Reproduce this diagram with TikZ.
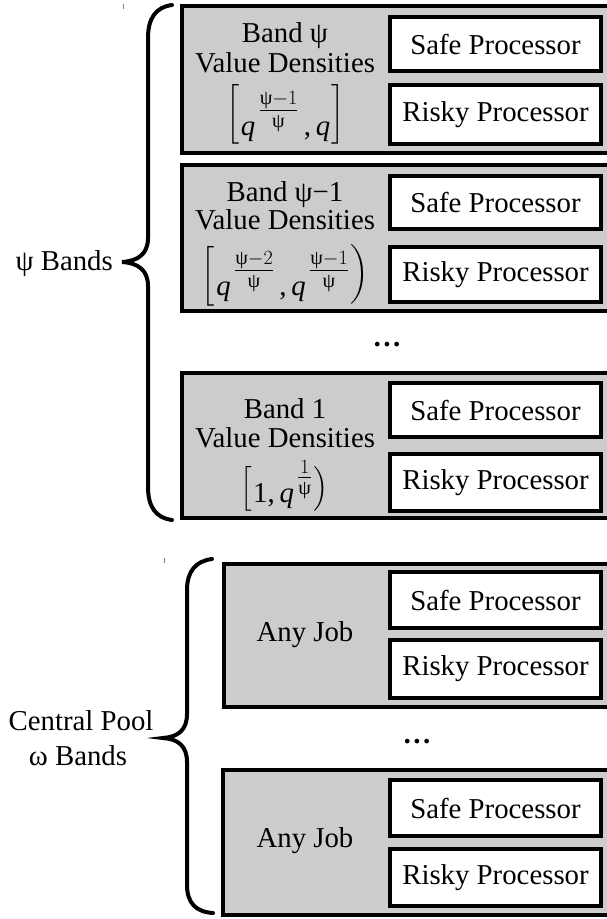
\RequirePackage{fix-cm}
\documentclass[tikz,border=0pt]{standalone}
\usepackage{amsmath}
\usepackage{fontspec}
\setmainfont{Liberation Serif}
\newcommand{\bigtxt}{\fontsize{28.8pt}{35pt}\selectfont}
\newcommand{\qv}{\textit{q}}
\newcommand{\psv}{\text{ψ}}
\newcommand{\ex}[2]{^{\,\textstyle\frac{#1}{#2}}}
% delimiter #1 of requested size #2, raised by #3
\newcommand{\dlm}[3]{\smash{\raisebox{#3}{$\left#1\vcenter{\hrule height #2 width 0pt}\right.$}}}
\newcommand{\dlmr}[3]{\smash{\raisebox{#3}{$\left.\vcenter{\hrule height #2 width 0pt}\right#1$}}}
\definecolor{bandgray}{HTML}{CCCCCC}
\begin{document}
\begin{tikzpicture}[x=1pt,y=-1pt,
  bandbox/.style={draw=black, line width=4pt, fill=bandgray, inner sep=0pt},
  procbox/.style={draw=black, line width=4pt, fill=white, minimum width=211pt, inner sep=0pt, font=\bigtxt},
  txt/.style={font=\bigtxt, inner sep=0pt},
  bracestroke/.style={draw=black, line width=4pt, line cap=round},
  tickmark/.style={draw=gray, line width=0.8pt}]
\useasboundingbox (0,0) rectangle (607,919);
\clip (0,0) rectangle (607,919);
% top group
\node[bandbox, minimum width=430pt, minimum height=147pt] (b1) at (397,79.5) {};
\node[bandbox, minimum width=430pt, minimum height=146pt] (b2) at (397,238) {};
\node[bandbox, minimum width=430pt, minimum height=145pt] (b3) at (397,445.5) {};
\node[procbox, minimum height=54pt] (s1) at (495.5,44) {Safe Processor};
\node[procbox, minimum height=59pt] (r1) at (495.5,114.5) {Risky Processor};
\node[procbox, minimum height=53pt] (s2) at (495.5,202.5) {Safe Processor};
\node[procbox, minimum height=55pt] (r2) at (495.5,274.5) {Risky Processor};
\node[procbox, minimum height=54pt] (s3) at (495.5,410) {Safe Processor};
\node[procbox, minimum height=57pt] (r3) at (495.5,482.5) {Risky Processor};
\node[txt, anchor=base] (t1a) at (285,42) {Band ψ};
\node[txt, anchor=base] (t1b) at (285,72) {Value Densities};
\node[txt, anchor=base] (t1c) at (285.5,135) {$\dlm[{50pt}{13pt}\qv\ex{\psv-1}{\psv}\,\text{,}\,\qv\dlmr]{50pt}{13pt}$};
\node[txt, anchor=base] (t2a) at (285,201) {Band ψ−1};
\node[txt, anchor=base] (t2b) at (285,229) {Value Densities};
\node[txt, anchor=base] (t2c) at (285.5,295) {$\dlm[{50pt}{11pt}\qv\ex{\psv-2}{\psv}\,\text{,}\,\qv\ex{\psv-1}{\psv}\dlmr){50pt}{13pt}$};
\node[txt, anchor=base] (t3a) at (285,418) {Band 1};
\node[txt, anchor=base] (t3b) at (285,447) {Value Densities};
\node[txt, anchor=base] (t3c) at (284.5,502) {$\dlm[{38pt}{6pt}\text{1,}\,\qv\ex{1}{\psv}\dlmr){38pt}{6pt}$};
\node[txt] (d1) at (387,345) {\bfseries …};
% bottom group
\node[bandbox, minimum width=388pt, minimum height=143pt] (b4) at (418,635.5) {};
\node[bandbox, minimum width=389pt, minimum height=145pt] (b5) at (417.5,842.5) {};
\node[procbox, minimum height=56pt] (s4) at (495.5,600) {Safe Processor};
\node[procbox, minimum height=58pt] (r4) at (495.5,669) {Risky Processor};
\node[procbox, minimum height=56pt] (s5) at (495.5,808) {Safe Processor};
\node[procbox, minimum height=57pt] (r5) at (495.5,877.5) {Risky Processor};
\node[txt, anchor=base] (j4) at (305,641) {Any Job};
\node[txt, anchor=base] (j5) at (305,847) {Any Job};
\node[txt] (d2) at (417,742) {\bfseries …};
% labels
\node[txt, anchor=base east] (lab1) at (113,270) {ψ Bands};
\node[txt, anchor=base] (lab2a) at (81,730) {Central Pool};
\node[txt, anchor=base] (lab2b) at (78,765) {ω Bands};
% braces
\draw[bracestroke] (172,5) .. controls (156,7) and (148,18) .. (148,38) -- (148,238)
  .. controls (148,254) and (138,261) .. (122,262)
  .. controls (138,263) and (148,270) .. (148,286) -- (148,487)
  .. controls (148,507) and (156,518) .. (172,520);
\draw[bracestroke] (212,559) .. controls (196,561) and (187,571) .. (187,590) -- (187,714)
  .. controls (187,730) and (178,737) .. (163,738)
  .. controls (178,739) and (187,746) .. (187,762) -- (187,885)
  .. controls (187,903) and (196,912) .. (213,913);
% small marks
\draw[tickmark] (123,4) -- (123,9);
\draw[tickmark] (164,558) -- (164,563);
\end{tikzpicture}
\end{document}
